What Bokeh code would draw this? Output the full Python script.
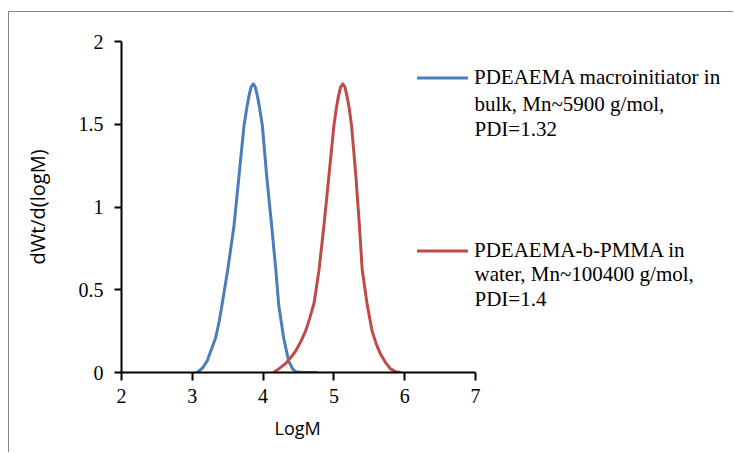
from bokeh.plotting import figure
from bokeh.models import Range1d, Legend, LegendItem, FixedTicker, Label, Title
from bokeh.embed import file_html
from bokeh.resources import INLINE

# ---- data ----
logm_macro = [3.07, 3.15, 3.21, 3.27, 3.33, 3.38, 3.42, 3.50, 3.59, 3.66, 3.73, 3.77,
              3.80, 3.83, 3.862, 3.89, 3.92, 3.95, 3.99, 4.05, 4.12, 4.18, 4.22, 4.29,
              4.36, 4.42, 4.46, 4.55, 4.65, 4.76]
wt_macro = [0.0, 0.03, 0.07, 0.14, 0.21, 0.31, 0.41, 0.62, 0.89, 1.19, 1.49, 1.60,
            1.67, 1.725, 1.744, 1.725, 1.67, 1.60, 1.49, 1.19, 0.89, 0.62, 0.41, 0.21,
            0.07, 0.02, 0.005, 0.0, 0.0, 0.0]

logm_block = [4.15, 4.23, 4.32, 4.39, 4.46, 4.53, 4.60, 4.66, 4.72, 4.79, 4.86, 4.93,
              5.00, 5.035, 5.065, 5.095, 5.126, 5.155, 5.185, 5.215, 5.25, 5.31, 5.36,
              5.40, 5.47, 5.54, 5.60, 5.66, 5.73, 5.80, 5.87, 5.94]
wt_block = [0.0, 0.025, 0.055, 0.09, 0.13, 0.185, 0.25, 0.33, 0.42, 0.62, 0.89, 1.19,
            1.49, 1.60, 1.67, 1.725, 1.744, 1.725, 1.67, 1.60, 1.49, 1.19, 0.89, 0.62,
            0.41, 0.25, 0.17, 0.11, 0.06, 0.022, 0.005, 0.0]

series_lines = [["PDEAEMA macroinitiator in", "bulk, Mn~5900 g/mol,", "PDI=1.32"],
                ["PDEAEMA-b-PMMA in", "water, Mn~100400 g/mol,", "PDI=1.4"]]

x_ticks = [2, 3, 4, 5, 6, 7]
y_ticks = [0, 0.5, 1, 1.5, 2]
y_tick_labels = ["0", "0.5", "1", "1.5", "2"]
x_title = "LogM"
y_title = "dWt/d(logM)"

BLUE = "#4a7ebb"
RED = "#be4b48"

# frame: left at 121 px, x=7 at 475 px (70.8 px per unit); frame runs to the right edge
PX_PER_X = 70.8
FRAME_W = 612
x_end = 2 + FRAME_W / PX_PER_X

p = figure(width=725, height=441, output_backend="svg", toolbar_location=None,
           x_range=Range1d(2, x_end), y_range=Range1d(0, 2),
           min_border_left=112, min_border_right=1, min_border_top=29,
           min_border_bottom=81)
p.margin = (11, 0, 0, 8)
p.styles = {"border-top": "1px solid #878787", "border-left": "1px solid #878787"}

p.outline_line_color = None
p.grid.visible = False
p.background_fill_color = "white"
p.border_fill_color = "white"

r1 = p.line(logm_macro, wt_macro, line_color=BLUE, line_width=3, line_join="round",
            line_cap="round")
r2 = p.line(logm_block, wt_block, line_color=RED, line_width=3, line_join="round",
            line_cap="round")

for ax in (p.xaxis[0], p.yaxis[0]):
    ax.axis_line_color = "black"
    ax.axis_line_width = 2
    ax.major_tick_line_color = "black"
    ax.major_tick_line_width = 2
    ax.major_tick_in = 0
    ax.minor_tick_line_color = None
    ax.major_label_text_font = "Liberation Serif"
    ax.major_label_text_font_size = "20px"
    ax.major_label_text_color = "black"
    ax.axis_label_text_font = "Open Sans"
    ax.axis_label_text_font_size = "20px"
    ax.axis_label_text_font_style = "normal"
    ax.axis_label_text_color = "black"

p.xaxis.bounds = (x_ticks[0], x_ticks[-1])
p.xaxis.ticker = FixedTicker(ticks=x_ticks)
p.yaxis.ticker = FixedTicker(ticks=y_ticks)
p.yaxis.major_label_overrides = {t: s for t, s in zip(y_ticks, y_tick_labels)}
p.xaxis.major_tick_out = 8
p.yaxis.major_tick_out = 7
p.xaxis.major_label_standoff = 8
p.yaxis.major_label_standoff = 11
p.yaxis.axis_label = y_title
p.yaxis.axis_label_standoff = 25

# x-axis title centred under the bounded axis (2..7), not under the whole frame
x_title_obj = Title(text=x_title, align="left", offset=153, standoff=16,
                    text_font="Open Sans", text_font_size="18px",
                    text_font_style="normal", text_color="black")
p.add_layout(x_title_obj, "below")

legend = Legend(items=[LegendItem(label=series_lines[0][0], renderers=[r1]),
                       LegendItem(label=series_lines[1][0], renderers=[r2])],
                location=(296, 109), orientation="vertical")
legend.border_line_color = None
legend.background_fill_alpha = 0
legend.padding = 0
legend.margin = 0
legend.spacing = 148
legend.glyph_width = 51
legend.glyph_height = 23
legend.label_height = 23
legend.label_standoff = 6
legend.label_text_font = "Liberation Serif"
legend.label_text_font_size = "21px"
legend.label_text_color = "black"
p.add_layout(legend)

# continuation lines of the legend entries (screen offsets from the frame's bottom-left)
cont_y = [[269, 244], [99, 74]]
for lines, ys in zip(series_lines, cont_y):
    for txt, yy in zip(lines[1:], ys):
        p.add_layout(Label(x=353, y=yy, x_units="screen", y_units="screen", text=txt,
                           text_font="Liberation Serif", text_font_size="21px",
                           text_baseline="middle", text_align="left",
                           text_color="black"))

open("out.html", "w").write(file_html(p, INLINE))
